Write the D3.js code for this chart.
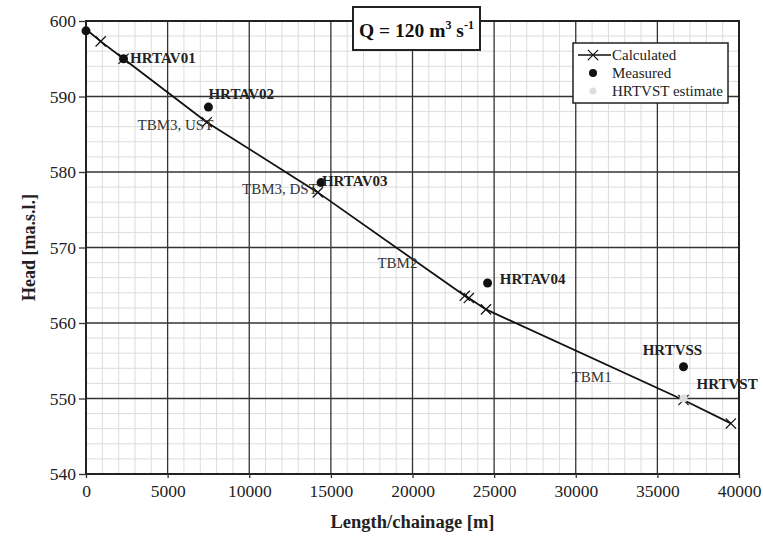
<!DOCTYPE html>
<html><head><meta charset="utf-8">
<script src="https://cdn.jsdelivr.net/npm/d3@7"></script>
<style>body{margin:0;background:#fff}svg{display:block}svg text{font-family:'Liberation Serif','DejaVu Serif',serif !important}</style>
</head><body>
<script>
const calcX = [0, 900, 2300, 7400, 14200, 23200, 23450, 24500, 36600, 39500];
const calcY = [598.9, 597.3, 595.0, 586.6, 577.3, 563.6, 563.3, 561.8, 549.8, 546.7];
const markerIdx = [1, 2, 3, 4, 5, 6, 7, 8, 9];
const measX = [0, 2300, 7500, 14400, 24600, 36600];
const measY = [598.7, 595.0, 588.6, 578.6, 565.3, 554.2];
const estX = [36600];
const estY = [550.0];
const stationNames = ["HRTAV01", "HRTAV02", "HRTAV03", "HRTAV04", "HRTVSS", "HRTVST"];
const stationX = [2700, 7500, 14450, 25350, 34100, 37400];
const stationY = [594.4, 589.7, 578.2, 565.2, 555.8, 551.3];
const tbmNames = ["TBM3, UST", "TBM3, DST", "TBM2", "TBM1"];
const tbmX = [7800, 14200, 20300, 32200];
const tbmY = [585.6, 577.1, 567.3, 552.2];
const xTicks = [0, 5000, 10000, 15000, 20000, 25000, 30000, 35000, 40000];
const yTicks = [540, 550, 560, 570, 580, 590, 600];
const legendLabels = ["Calculated", "Measured", "HRTVST estimate"];

const FONT = "'Liberation Serif','DejaVu Serif',serif";
const W = 763, H = 538;
const m = {l: 86, r: 24, t: 21, b: 64};
const svg = d3.select("body").append("svg").attr("width", W).attr("height", H).attr("font-family", FONT);
const x = d3.scaleLinear().domain([0, 40000]).range([m.l, W - m.r]);
const y = d3.scaleLinear().domain([540, 600]).range([H - m.b, m.t]);

// minor grid
const g = svg.append("g");
g.selectAll(".mx").data(d3.range(1000, 40000, 1000).filter(v => v % 5000)).join("line")
  .attr("x1", d => x(d)).attr("x2", d => x(d)).attr("y1", y(540)).attr("y2", y(600))
  .attr("stroke", "#dcdcdc").attr("stroke-width", 1);
g.selectAll(".my").data(d3.range(542, 600, 2).filter(v => v % 10)).join("line")
  .attr("y1", d => y(d)).attr("y2", d => y(d)).attr("x1", x(0)).attr("x2", x(40000))
  .attr("stroke", "#dcdcdc").attr("stroke-width", 1);
// major grid
g.selectAll(".Mx").data(xTicks).join("line")
  .attr("x1", d => x(d)).attr("x2", d => x(d)).attr("y1", y(540)).attr("y2", y(600))
  .attr("stroke", "#333").attr("stroke-width", 1.3);
g.selectAll(".My").data(yTicks).join("line")
  .attr("y1", d => y(d)).attr("y2", d => y(d)).attr("x1", x(0)).attr("x2", x(40000))
  .attr("stroke", "#333").attr("stroke-width", 1.3);

// frame
svg.append("rect").attr("x", x(0)).attr("y", y(600)).attr("width", x(40000) - x(0)).attr("height", y(540) - y(600))
  .attr("fill", "none").attr("stroke", "#222").attr("stroke-width", 2);

// axes
const xAxis = svg.append("g").attr("transform", `translate(0,${y(540)})`)
  .call(d3.axisBottom(x).tickValues(xTicks).tickFormat(d3.format("d")).tickSize(4).tickPadding(7));
const yAxis = svg.append("g").attr("transform", `translate(${x(0)},0)`)
  .call(d3.axisLeft(y).tickValues(yTicks).tickSize(7).tickPadding(3));
[xAxis, yAxis].forEach(a => {
  a.attr("font-family", FONT);
  a.select(".domain").remove();
  a.selectAll("line").attr("stroke", "#333").attr("stroke-width", 1.3);
  a.selectAll("text").attr("font-size", 17.5).attr("fill", "#222");
});

svg.append("text").attr("x", (x(0) + x(40000)) / 2).attr("y", 528).attr("text-anchor", "middle")
  .attr("font-size", 18.5).attr("font-weight", "bold").attr("fill", "#222").text("Length/chainage [m]");
svg.append("text").attr("transform", `translate(35,${(y(540) + y(600)) / 2}) rotate(-90)`).attr("text-anchor", "middle")
  .attr("font-size", 18).attr("font-weight", "bold").attr("fill", "#222").text("Head [ma.s.l.]");

// calculated line
const pts = calcX.map((v, i) => [v, calcY[i]]);
svg.append("path").datum(pts).attr("fill", "none").attr("stroke", "#111").attr("stroke-width", 1.8)
  .attr("d", d3.line().x(d => x(d[0])).y(d => y(d[1])));
const cross = d3.symbol().type(d3.symbolX).size(70);
svg.selectAll(".cx").data(markerIdx).join("path")
  .attr("transform", i => `translate(${x(calcX[i])},${y(calcY[i])})`)
  .attr("d", cross).attr("fill", "none").attr("stroke", "#111").attr("stroke-width", 1.2);

// estimate
svg.selectAll(".est").data(estX).join("circle")
  .attr("cx", (d) => x(d)).attr("cy", (d, i) => y(estY[i])).attr("r", 4).attr("fill", "#ddd");
// measured
svg.selectAll(".meas").data(measX).join("circle")
  .attr("cx", d => x(d)).attr("cy", (d, i) => y(measY[i])).attr("r", 4.5).attr("fill", "#111");

// labels
svg.selectAll(".st").data(stationNames).join("text")
  .attr("x", (d, i) => x(stationX[i])).attr("y", (d, i) => y(stationY[i]))
  .attr("font-size", 15).attr("font-weight", "bold").attr("fill", "#222").text(d => d);
svg.selectAll(".tbm").data(tbmNames).join("text")
  .attr("x", (d, i) => x(tbmX[i])).attr("y", (d, i) => y(tbmY[i])).attr("text-anchor", "end")
  .attr("font-size", 15).attr("fill", "#333").text(d => d);

// Q box
const qb = svg.append("g");
qb.append("rect").attr("x", 353).attr("y", 7).attr("width", 127).attr("height", 43)
  .attr("fill", "#fff").attr("stroke", "#222").attr("stroke-width", 2);
const qt = qb.append("text").attr("x", 416.5).attr("y", 37).attr("text-anchor", "middle")
  .attr("font-size", 19.5).attr("font-weight", "bold").attr("fill", "#111");
qt.append("tspan").text("Q = 120 m");
qt.append("tspan").attr("dy", -8).attr("font-size", 12).text("3");
qt.append("tspan").attr("dy", 8).text(" s");
qt.append("tspan").attr("dy", -8).attr("font-size", 12).text("-1");

// legend
const lg = svg.append("g");
lg.append("rect").attr("x", 573).attr("y", 43).attr("width", 155).attr("height", 60)
  .attr("fill", "#fff").attr("stroke", "#222").attr("stroke-width", 1.5);
const ly = [55, 73, 91];
lg.append("line").attr("x1", 578).attr("x2", 611).attr("y1", ly[0]).attr("y2", ly[0]).attr("stroke", "#111").attr("stroke-width", 1.5);
lg.append("path").attr("transform", `translate(593,${ly[0]})`).attr("d", cross).attr("fill", "none").attr("stroke", "#111").attr("stroke-width", 1.2);
lg.append("circle").attr("cx", 593).attr("cy", ly[1]).attr("r", 4).attr("fill", "#111");
lg.append("circle").attr("cx", 593).attr("cy", ly[2]).attr("r", 3.5).attr("fill", "#ddd");
lg.selectAll(".lt").data(legendLabels).join("text")
  .attr("x", 612).attr("y", (d, i) => ly[i] + 5).attr("font-size", 15).attr("fill", "#222").text(d => d);
</script>
</body></html>
